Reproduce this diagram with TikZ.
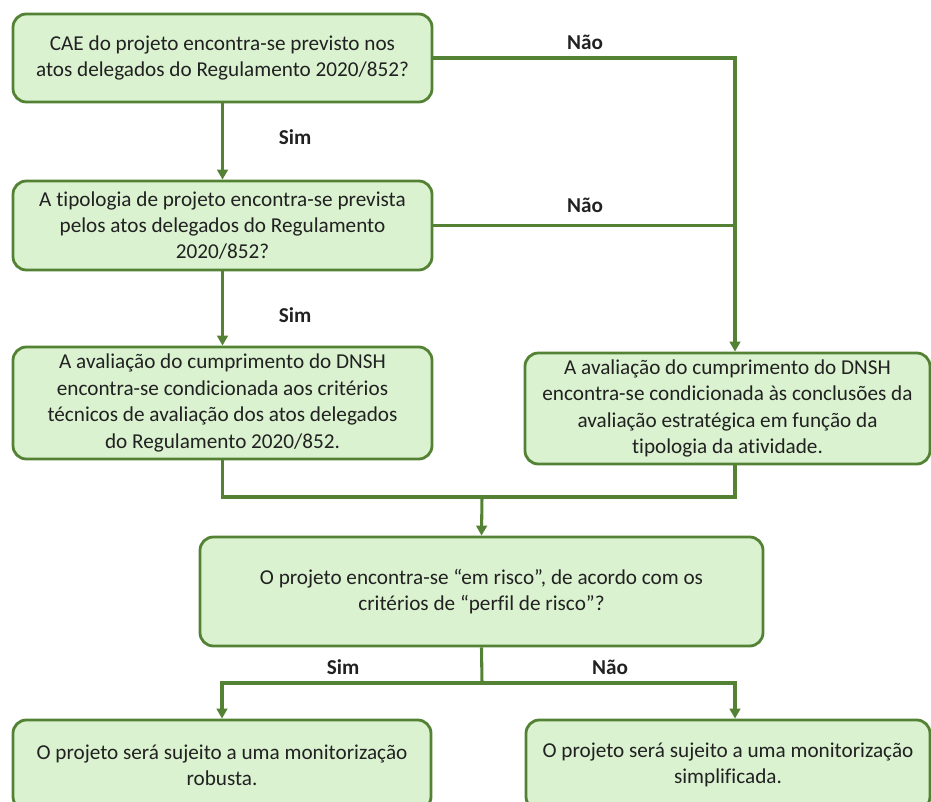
\documentclass[tikz,border=0pt]{standalone}
\usepackage{fontspec}
\setmainfont{Carlito}[Ligatures=NoCommon]
\usetikzlibrary{arrows.meta}
\definecolor{verdeborda}{RGB}{84,130,53}
\definecolor{verdefundo}{RGB}{218,242,208}
\definecolor{texto}{RGB}{33,33,33}
\tikzset{
  caixa/.style={draw=verdeborda,fill=verdefundo,line width=2.1pt,rounded corners=10pt,
    align=center,inner sep=0pt,text=texto,font=\fontsize{15.9}{19.8}\selectfont},
  rotulo/.style={font=\fontsize{15.9}{18}\selectfont\bfseries,text=texto},
  seta/.style={draw=verdeborda,line width=2.3pt,-{Triangle[length=7.5pt,width=8pt]}},
  linha/.style={draw=verdeborda,line width=2.3pt}
}
\begin{document}
\begin{tikzpicture}[x=0.75pt,y=-0.75pt]
    \clip (0,0) rectangle (931,802);
    %% decision boxes
    \node[caixa,minimum width=419*0.75pt,minimum height=88*0.75pt] (q1) at (222.5,58)
        {CAE do projeto encontra-se previsto nos\\atos delegados do Regulamento 2020/852?};
    \node[caixa,minimum width=419*0.75pt,minimum height=89*0.75pt] (q2) at (222.5,225.5)
        {A tipologia de projeto encontra-se prevista\\pelos atos delegados do Regulamento\\2020/852?};
    \node[caixa,minimum width=419*0.75pt,minimum height=112*0.75pt] (r1) at (222.5,403)
        {A avaliação do cumprimento do DNSH\\encontra-se condicionada aos critérios\\técnicos de avaliação dos atos delegados\\do Regulamento 2020/852.};
    \node[caixa,minimum width=405*0.75pt,minimum height=111*0.75pt] (r2) at (727.5,408.5)
        {A avaliação do cumprimento do DNSH\\encontra-se condicionada às conclusões da\\avaliação estratégica em função da\\tipologia da atividade.};
    \node[caixa,minimum width=563*0.75pt,minimum height=109*0.75pt] (q3) at (481.5,591.5)
        {O projeto encontra-se “em risco”, de acordo com os\\critérios de “perfil de risco”?};
    \node[caixa,minimum width=418*0.75pt,minimum height=90*0.75pt] (f1) at (222,765)
        {O projeto será sujeito a uma monitorização\\robusta.};
    \node[caixa,minimum width=404*0.75pt,minimum height=90*0.75pt] (f2) at (728,765)
        {O projeto será sujeito a uma monitorização\\simplificada.};
    %% connectors
    \coordinate (cx) at (735,0);
    \coordinate (junta) at (482,497);
    \coordinate (divide) at (482,683);
    \draw[seta] (q1) -- (q2);
    \draw[seta] (q2) -- (r1);
    \draw[seta] (q1.east) -| (cx |- r2.north);
    \draw[linha] (q2.east) -- (q2.east -| cx);
    \draw[linha] (r1.south) |- (junta);
    \draw[linha] (cx |- r2.south) |- (junta);
    \draw[seta] (junta) -- (q3.north);
    \draw[linha] (q3.south) -- (divide);
    \draw[seta] (divide) -| (f1.north);
    \draw[seta] (divide) -| (cx |- f2.north);
    %% labels
    \node[rotulo] (n1) at (585,42) {Não};
    \node[rotulo] (n2) at (585,205) {Não};
    \node[rotulo] (s1) at (295,137) {Sim};
    \node[rotulo] (s2) at (295,315) {Sim};
    \node[rotulo] (s3) at (343,667) {Sim};
    \node[rotulo] (n3) at (610,667) {Não};
\end{tikzpicture}
\end{document}
